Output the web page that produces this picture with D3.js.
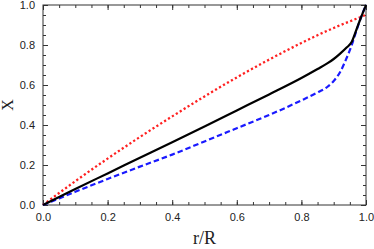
<!DOCTYPE html>
<html>
<head>
<meta charset="utf-8">
<script src="https://cdn.jsdelivr.net/npm/d3@7"></script>
<style>
  body { margin: 0; background: #fff; }
  .tick text { font-family: "Liberation Sans", Arial, sans-serif; font-size: 11px; fill: #222; }
  .axTitle { font-family: "Liberation Serif", "Times New Roman", serif; fill: #222; }
</style>
</head>
<body>
<svg id="chart" width="374" height="249"></svg>
<script>

// radial position r/R
var rValues = [0, 0.05, 0.1, 0.2, 0.3, 0.4, 0.5, 0.6, 0.7, 0.8, 0.85, 0.88, 0.9, 0.92, 0.94, 0.956, 0.97, 0.985, 1.0];

// three profiles of X
var blackValues = [0, 0.04, 0.08, 0.158, 0.236, 0.314, 0.393, 0.473, 0.553, 0.635, 0.68, 0.708, 0.73, 0.757, 0.787, 0.816, 0.875, 0.94, 1.0];
var blueValues  = [0, 0.033, 0.066, 0.13, 0.192, 0.252, 0.318, 0.384, 0.45, 0.523, 0.563, 0.59, 0.62, 0.665, 0.735, 0.8, 0.87, 0.94, 1.0];
var redValues   = [0, 0.06, 0.119, 0.232, 0.34, 0.443, 0.543, 0.638, 0.727, 0.81, 0.849, 0.871, 0.885, 0.899, 0.912, 0.922, 0.931, 0.941, 0.951];

var majorTicks = [0, 0.2, 0.4, 0.6, 0.8, 1.0];
var minorTicks = d3.range(0, 1.0001, 0.05);


var svg = d3.select("#chart");
svg.margin = {left: 43, right: 8, top: 5, bottom: 44};
svg.width = 374 - svg.margin.left - svg.margin.right;
svg.height = 249 - svg.margin.top - svg.margin.bottom;

svg.x = d3.scaleLinear().domain([0, 1]).range([0, svg.width]);
svg.y = d3.scaleLinear().domain([0, 1]).range([svg.height, 0]);

var g = svg.append("g").attr("transform", "translate(" + [svg.margin.left, svg.margin.top] + ")");

var fmt = d3.format(".1f");
var axisColor = "#333";

// major + minor inward ticks on one side
function tickAxis(axisFn, scale, pos, labelled){
  var a = g.append("g").attr("transform", pos);
  a.call(axisFn(scale).tickValues(majorTicks).tickSize(-5).tickPadding(labelled ? 8 : 0)
    .tickFormat(labelled ? fmt : ""));
  a.select(".domain").remove();
  a.selectAll("line").attr("stroke", axisColor);
  var m = g.append("g").attr("transform", pos);
  m.call(axisFn(scale).tickValues(minorTicks).tickSize(-3).tickFormat(""));
  m.select(".domain").remove();
  m.selectAll("line").attr("stroke", axisColor);
  return a;
}

tickAxis(d3.axisBottom, svg.x, "translate(0," + svg.height + ")", true);
tickAxis(d3.axisTop, svg.x, "translate(0,0)", false);
tickAxis(d3.axisLeft, svg.y, "translate(0,0)", true);
tickAxis(d3.axisRight, svg.y, "translate(" + svg.width + ",0)", false);

g.selectAll(".tick text").attr("fill", "#222");

// frame
g.append("rect").attr("x", 0).attr("y", 0).attr("width", svg.width).attr("height", svg.height)
  .attr("fill", "none").attr("stroke", axisColor).attr("stroke-width", 1);

var line = d3.line().curve(d3.curveMonotoneX)
  .x(function(d, i){ return svg.x(rValues[i]); })
  .y(function(d){ return svg.y(d); });

g.append("path").attr("d", line(redValues)).attr("fill", "none")
  .attr("stroke", "#ff2020").attr("stroke-width", 2.3).attr("stroke-dasharray", "2.2,2.4");
g.append("path").attr("d", line(blueValues)).attr("fill", "none")
  .attr("stroke", "#1a1aff").attr("stroke-width", 2.2).attr("stroke-dasharray", "5.5,3");
g.append("path").attr("d", line(blackValues)).attr("fill", "none")
  .attr("stroke", "#000").attr("stroke-width", 2.2);

// axis titles
svg.append("text").attr("class", "axTitle").attr("x", svg.margin.left + svg.width / 2).attr("y", 244)
  .attr("text-anchor", "middle").attr("font-size", 18).text("r/R");
svg.append("text").attr("class", "axTitle").attr("x", 0).attr("y", 0)
  .attr("transform", "translate(13," + (svg.margin.top + svg.height / 2) + ") rotate(-90)")
  .attr("text-anchor", "middle").attr("font-size", 16).text("X");

</script>
</body>
</html>
